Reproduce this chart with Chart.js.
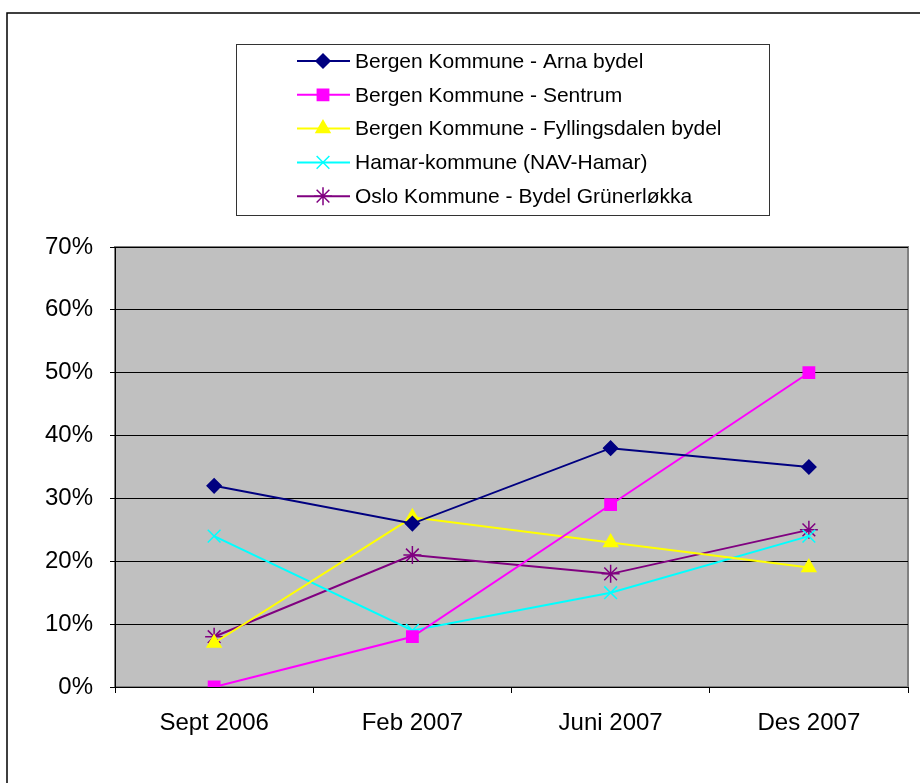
<!DOCTYPE html>
<html lang="no">
<head>
  <meta charset="UTF-8" />
  <title>Kommuner</title>
  <script src="https://cdn.jsdelivr.net/npm/chart.js@4"></script>
  <style>
    html, body { margin: 0; padding: 0; background: #fff; }
    #wrap { width: 920px; height: 783px; }
  </style>
</head>
<body>
  <div id="wrap"><canvas id="chart" width="920" height="783"></canvas></div>
  <script>
    // data lest av fra bildet (prosent)
    const categories = ["Sept 2006", "Feb 2007", "Juni 2007", "Des 2007"];
    const arna = [32, 26, 38, 35];
    const sentrum = [0, 8, 29, 50];
    const fyllingsdalen = [7, 27, 23, 19];
    const hamar = [24, 9, 15, 24];
    const oslo = [8, 21, 18, 25];
    const yTicks = [0, 10, 20, 30, 40, 50, 60, 70];

    const FONT = "'Liberation Sans', Arial, sans-serif";

    function serie(label, data, color, style, radius) {
      return {
        label: label,
        data: data,
        borderColor: color,
        backgroundColor: color,
        borderWidth: 2,
        pointStyle: style,
        pointRadius: radius,
        pointHoverRadius: radius,
        pointBorderColor: color,
        pointBackgroundColor: color,
        pointBorderWidth: 1.5,
        tension: 0
      };
    }

    const datasets = [
      serie("Bergen Kommune - Arna bydel", arna, "#000080", "rectRot", 7),
      serie("Bergen Kommune - Sentrum", sentrum, "#FF00FF", "rect", 8),
      serie("Bergen Kommune - Fyllingsdalen bydel", fyllingsdalen, "#FFFF00", "triangle", 8),
      serie("Hamar-kommune (NAV-Hamar)", hamar, "#00FFFF", "crossRot", 9),
      serie("Oslo Kommune - Bydel Grünerløkka", oslo, "#800080", "star", 9)
    ];

    // grå plottebakgrunn + ytre ramme
    const background = {
      id: "background",
      beforeDraw(chart) {
        const ctx = chart.ctx, a = chart.chartArea;
        ctx.save();
        ctx.fillStyle = "#C0C0C0";
        ctx.fillRect(a.left, a.top, a.right - a.left, a.bottom - a.top);
        ctx.strokeStyle = "#808080";
        ctx.lineWidth = 2;
        ctx.strokeRect(a.left, a.top, a.right - a.left, a.bottom - a.top);
        ctx.strokeStyle = "#000";
        ctx.lineWidth = 1.5;
        ctx.strokeRect(7, 13, 1000, 1000);
        ctx.restore();
      }
    };

    // legende i egen boks, tegnet som i Excel
    const boxLegend = {
      id: "boxLegend",
      afterDraw(chart) {
        const ctx = chart.ctx;
        ctx.save();
        ctx.fillStyle = "#fff";
        ctx.fillRect(236, 44, 533, 171);
        ctx.strokeStyle = "#333";
        ctx.lineWidth = 1;
        ctx.strokeRect(236.5, 44.5, 533, 171);
        ctx.font = "21px " + FONT;
        ctx.textBaseline = "middle";
        chart.data.datasets.forEach((ds, i) => {
          const y = 61 + i * 33.8;
          ctx.strokeStyle = ds.borderColor;
          ctx.lineWidth = 2;
          ctx.beginPath();
          ctx.moveTo(297, y);
          ctx.lineTo(350, y);
          ctx.stroke();
          ctx.fillStyle = ds.borderColor;
          ctx.lineWidth = 1.5;
          Chart.helpers.drawPoint(ctx, {
            pointStyle: ds.pointStyle, radius: ds.pointRadius, rotation: 0, borderWidth: 1.5
          }, 323, y);
          ctx.fillStyle = "#000";
          ctx.fillText(ds.label, 355, y + 1);
        });
        ctx.restore();
      }
    };

    new Chart(document.getElementById("chart"), {
      type: "line",
      data: { labels: categories, datasets: datasets },
      options: {
        responsive: false,
        animation: false,
        layout: { padding: { left: 0, top: 247, right: 12, bottom: 0 } },
        plugins: { legend: { display: false }, tooltip: { enabled: false } },
        scales: {
          x: {
            offset: true,
            afterFit(s) { s.height = 96; },
            grid: { offset: true, drawOnChartArea: false, drawTicks: true, tickLength: 6, color: "#000", lineWidth: 1 },
            border: { display: true, color: "#000", width: 1 },
            ticks: { color: "#000", font: { family: FONT, size: 24 }, padding: 16, maxRotation: 0 }
          },
          y: {
            min: 0,
            max: 70,
            afterFit(s) { s.width = 115; },
            afterBuildTicks(s) { s.ticks = yTicks.map(v => ({ value: v })); },
            grid: { color: "#000", lineWidth: 1, drawTicks: true, tickLength: 5 },
            border: { display: true, color: "#000", width: 1 },
            ticks: { color: "#000", font: { family: FONT, size: 24 }, padding: 17, callback: v => v + "%" }
          }
        }
      },
      plugins: [background, boxLegend]
    });
  </script>
</body>
</html>
